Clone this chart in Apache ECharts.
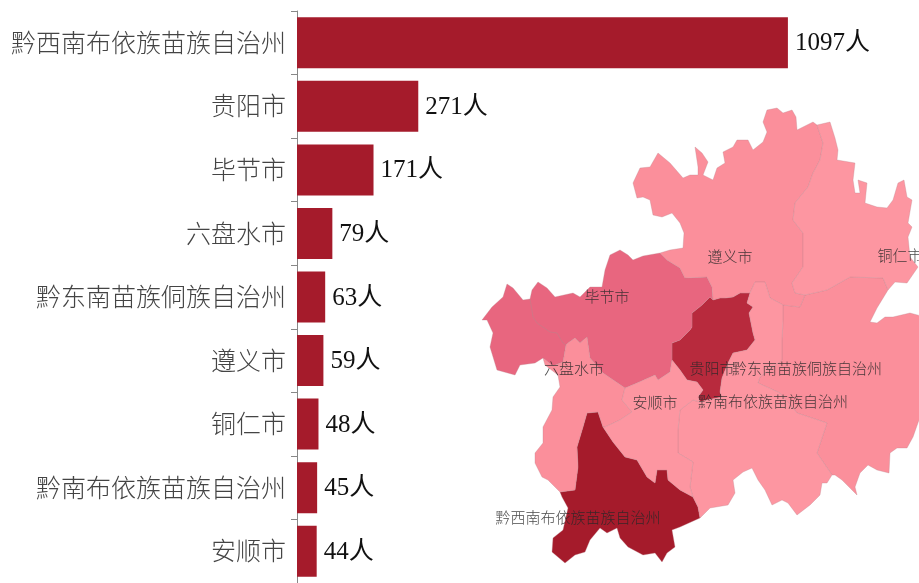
<!DOCTYPE html>
<html>
<head>
<meta charset="utf-8">
<style>
html,body{margin:0;padding:0;background:#fff;overflow:hidden}
#main{width:919px;height:583px}
</style>
<script src="https://cdn.jsdelivr.net/npm/echarts@6/dist/echarts.min.js"></script>
</head>
<body>
<div id="main"></div>
<script>
var cities = ['黔西南布依族苗族自治州','贵阳市','毕节市','六盘水市','黔东南苗族侗族自治州','遵义市','铜仁市','黔南布依族苗族自治州','安顺市'];
var counts = [1097,271,171,79,63,59,48,45,44];

// hand traced outlines, x / -y
var bijieWest = [[482,320],[492,307],[503,297],[507,284],[513,288],[523,300],[530,299],[533,317],[537,323],[550,332],[557,333],[563,343],[566,345],[563,362],[553,366],[543,358],[535,363],[520,365],[515,375],[497,370],[490,347],[493,333],[487,320]];
var bijieEast = [[530,299],[532,290],[538,282],[547,288],[555,297],[573,293],[580,297],[590,287],[602,287],[605,270],[610,255],[620,250],[628,255],[633,260],[643,256],[660,253],[667,260],[680,268],[685,278],[707,277],[712,287],[713,300],[710,297],[702,305],[692,313],[692,327],[690,330],[680,340],[672,343],[672,360],[670,372],[658,380],[655,375],[637,383],[625,388],[603,373],[590,358],[587,337],[580,343],[575,338],[568,343],[566,345],[563,343],[557,333],[550,332],[537,323],[533,317]];
var liupanshui = [[543,358],[553,366],[563,362],[566,345],[568,343],[575,338],[580,343],[587,337],[590,358],[603,373],[625,388],[622,400],[632,412],[620,420],[605,427],[603,427],[598,412],[587,413],[583,427],[577,447],[578,467],[575,490],[560,492],[548,480],[542,477],[535,463],[535,453],[543,443],[543,427],[552,410],[553,397],[560,387],[558,375],[545,365]];
var zunyi = [[660,253],[670,250],[683,248],[684,233],[680,223],[672,213],[662,217],[653,215],[650,200],[643,197],[637,198],[633,183],[640,168],[650,167],[658,153],[670,163],[683,178],[690,175],[698,175],[698,167],[695,147],[702,153],[708,162],[703,175],[713,180],[717,168],[725,163],[723,152],[733,147],[737,140],[748,140],[753,150],[763,142],[767,132],[763,122],[767,110],[777,108],[783,113],[792,110],[796,117],[797,130],[813,122],[817,125],[823,143],[820,160],[813,173],[808,187],[795,203],[793,220],[803,233],[803,267],[792,283],[795,293],[805,295],[800,307],[783,305],[770,298],[765,282],[755,282],[750,293],[740,293],[733,297],[725,298],[720,298],[713,300],[712,287],[707,277],[685,278],[680,268],[667,260]];
var tongren = [[817,125],[830,122],[835,138],[838,150],[837,160],[855,163],[853,180],[855,193],[860,193],[858,180],[867,183],[865,203],[877,207],[887,208],[893,200],[898,183],[904,180],[907,197],[912,200],[908,223],[912,227],[908,237],[910,257],[918,267],[907,283],[895,282],[888,290],[883,278],[850,277],[827,290],[805,295],[795,293],[792,283],[803,267],[803,233],[793,220],[795,203],[808,187],[813,173],[820,160],[823,143]];
var guiyang = [[713,300],[720,298],[725,298],[733,297],[740,293],[750,293],[747,303],[753,307],[749,313],[753,333],[755,340],[747,350],[733,353],[728,363],[722,378],[720,392],[722,397],[707,400],[700,402],[698,397],[703,390],[697,382],[687,380],[680,370],[672,360],[672,343],[680,340],[690,330],[692,327],[692,313],[702,305],[710,297]];
var anshun = [[625,388],[637,383],[655,375],[658,380],[670,372],[672,360],[680,370],[687,380],[697,382],[703,390],[698,397],[700,402],[693,400],[680,410],[678,430],[678,453],[693,462],[690,487],[693,497],[680,490],[668,480],[667,470],[657,470],[655,483],[647,477],[637,460],[625,457],[613,442],[603,427],[605,427],[620,420],[632,412],[622,400]];
var qiannan = [[700,402],[707,400],[722,397],[720,392],[722,378],[728,363],[733,353],[747,350],[755,340],[753,333],[749,313],[753,307],[747,303],[750,293],[755,282],[765,282],[770,298],[783,305],[783,320],[782,340],[782,360],[760,377],[758,383],[780,393],[797,413],[827,423],[817,453],[832,475],[827,483],[822,483],[820,495],[810,505],[797,515],[788,503],[782,500],[772,505],[765,490],[758,480],[752,468],[743,472],[733,480],[735,493],[728,505],[710,508],[700,518],[698,507],[693,497],[690,487],[693,462],[678,453],[678,430],[680,410],[693,400]];
var qiandongnan = [[783,305],[800,307],[805,295],[827,290],[850,277],[883,278],[888,290],[877,308],[870,322],[877,323],[885,317],[893,317],[910,313],[925,317],[925,415],[919,420],[913,437],[907,448],[897,448],[890,453],[889,473],[877,470],[868,465],[860,473],[855,487],[857,495],[850,488],[842,480],[835,475],[832,475],[817,453],[827,423],[797,413],[780,393],[758,383],[760,377],[782,360],[782,340],[783,320]];
var qianxinan = [[700,518],[680,527],[672,530],[675,547],[667,553],[662,562],[655,553],[643,555],[628,547],[620,538],[617,528],[607,533],[600,528],[590,540],[585,552],[575,555],[565,563],[552,552],[553,538],[563,530],[568,508],[562,497],[560,492],[575,490],[578,467],[577,447],[583,427],[587,413],[598,412],[603,427],[613,442],[625,457],[637,460],[647,477],[655,483],[657,470],[667,470],[668,480],[680,490],[693,497],[698,507]];

function ring(pts){
    var out = pts.map(function(p){ return [p[0], -p[1]]; });
    out.push(out[0]);
    return out;
}
function feature(name, rings, cp){
    return {
        type:'Feature',
        properties:{ name:name, cp:[cp[0], -cp[1]] },
        geometry:{ type:'MultiPolygon', coordinates:rings.map(function(r){ return [ring(r)]; }) }
    };
}
echarts.registerMap('guizhou', {
    type:'FeatureCollection',
    features:[
        feature('黔西南布依族苗族自治州',[qianxinan],[578,519]),
        feature('贵阳市',[guiyang],[712,370]),
        feature('毕节市',[bijieWest,bijieEast],[607,298]),
        feature('六盘水市',[liupanshui],[574,370]),
        feature('黔东南苗族侗族自治州',[qiandongnan],[807,370]),
        feature('遵义市',[zunyi],[730,258]),
        feature('铜仁市',[tongren],[900,257]),
        feature('黔南布依族苗族自治州',[qiannan],[773,403]),
        feature('安顺市',[anshun],[655,404])
    ]
});

var serif = '"Liberation Serif","Noto Sans CJK SC",serif';
var myChart = echarts.init(document.getElementById('main'));
var option = {
    animation:false,
    backgroundColor:'#fff',
    grid:{ left:297, top:11, width:537, height:573 },
    xAxis:{ type:'value', min:0, max:1200, show:false },
    yAxis:{
        type:'category',
        inverse:true,
        data:cities,
        axisLine:{ lineStyle:{ color:'#888', width:1 } },
        axisTick:{ show:true, alignWithLabel:false, length:6, lineStyle:{ color:'#888' } },
        axisLabel:{ color:'#444', fontFamily:serif, fontSize:25, fontWeight:300, margin:11, verticalAlign:'top', lineHeight:5 }
    },
    visualMap:{
        show:false,
        seriesIndex:1,
        pieces:[
            { min:1000, color:'#a51b2b' },
            { min:200, max:999, color:'#b82a3d' },
            { min:100, max:199, color:'#e8667f' },
            { min:50, max:99, color:'#fb8f9b' },
            { max:49, color:'#fd96a1' }
        ]
    },
    series:[
        {
            type:'bar',
            data:counts,
            barWidth:51,
            itemStyle:{ color:'#a51b2b' },
            label:{
                show:true,
                position:'right',
                distance:7,
                offset:[0,1],
                formatter:'{c}人',
                color:'#111',
                fontFamily:serif,
                fontSize:25
            }
        },
        {
            type:'map',
            map:'guizhou',
            roam:false,
            aspectScale:1,
            left:482,
            top:108,
            width:443,
            height:455,
            silent:true,
            data:cities.map(function(c,i){ return { name:c, value:counts[i] }; }),
            itemStyle:{ borderColor:'rgba(190,130,140,0.4)', borderWidth:0.8 },
            label:{ show:true, color:'rgba(40,40,40,0.85)', fontFamily:serif, fontSize:15, fontWeight:300 }
        }
    ]
};
myChart.setOption(option);
</script>
</body>
</html>
